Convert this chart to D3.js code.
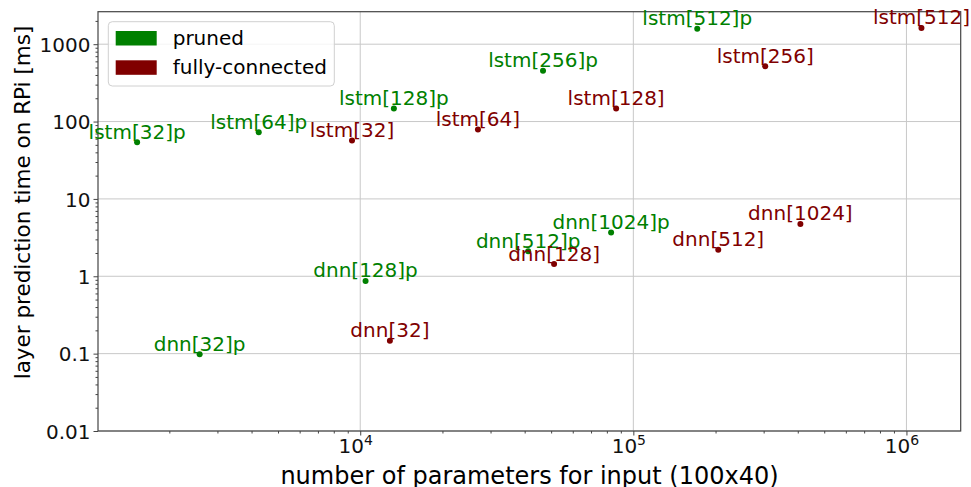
<!DOCTYPE html>
<meta charset="utf-8">
<head>
	<title>Layer prediction time</title>
	<script src="https://cdnjs.cloudflare.com/ajax/libs/d3/7.8.5/d3.min.js"></script>
</head>
<style>
	body { margin: 0; background: #fff; font-family: "DejaVu Sans", sans-serif; }
	.grid line { stroke: #c8c8c8; stroke-width: 1; }
	.axis path, .axis line { stroke: #444; }
	.axis text { font-size: 20px; fill: #111; font-family: "DejaVu Sans"; }
	.lbl { font-size: 20px; }
</style>
<body>
<div id=chart></div>
<script>
	// layer names, parameter counts and RPi prediction time (ms)
	var names = ["lstm[32]p", "lstm[64]p", "lstm[128]p", "lstm[256]p", "lstm[512]p",
		"dnn[32]p", "dnn[128]p", "dnn[512]p", "dnn[1024]p",
		"lstm[32]", "lstm[64]", "lstm[128]", "lstm[256]", "lstm[512]",
		"dnn[32]", "dnn[128]", "dnn[512]", "dnn[1024]"];
	var params = [1524, 4250, 13280, 46700, 171400,
		2582, 10460, 41200, 82900,
		9330, 26980, 86500, 304000, 1135000,
		12840, 51260, 204600, 409000];
	var times = [54, 72.7, 148, 453, 1578,
		0.098, 0.87, 2.1, 3.67,
		56.8, 78.8, 148, 520, 1625,
		0.147, 1.44, 2.21, 4.75];
	var pruned = [1, 1, 1, 1, 1, 1, 1, 1, 1, 0, 0, 0, 0, 0, 0, 0, 0, 0];

	var legendLabels = ["pruned", "fully-connected"];
	var colors = ["#008000", "#800000"];
	var yTicks = [0.01, 0.1, 1, 10, 100, 1000];
	var xTicks = [1e4, 1e5, 1e6];

	var W = 971, H = 487;
	var margin = {top: 11.7, right: 10.3, bottom: 56, left: 98};
	var width = W - margin.left - margin.right,
		height = H - margin.top - margin.bottom;

	var x = d3.scaleLog().domain([1096, 1.58e6]).range([0, width]);
	var y = d3.scaleLog().domain([0.01, 2630]).range([height, 0]);

	var svg = d3.select("#chart").append("svg")
		.attr("width", W).attr("height", H);
	var g = svg.append("g")
		.attr("transform", "translate(" + margin.left + "," + margin.top + ")");

	// grid
	g.append("g").attr("class", "grid")
		.selectAll("line").data(xTicks).enter().append("line")
		.attr("x1", x).attr("x2", x).attr("y1", 0).attr("y2", height);
	g.append("g").attr("class", "grid")
		.selectAll("line").data(yTicks).enter().append("line")
		.attr("y1", y).attr("y2", y).attr("x1", 0).attr("x2", width);

	// minor ticks
	var xMinor = [], yMinor = [];
	[1e3, 1e4, 1e5, 1e6].forEach(function(d) {
		for (var k = 2; k < 10; k++) if (d * k > 1096 && d * k < 1.58e6) xMinor.push(d * k);
	});
	[0.01, 0.1, 1, 10, 100, 1000].forEach(function(d) {
		for (var k = 2; k < 10; k++) if (d * k < 2630) yMinor.push(d * k);
	});

	g.append("g").attr("class", "axis")
		.attr("transform", "translate(0," + height + ")")
		.call(d3.axisBottom(x).tickValues(xMinor).tickSize(2.5).tickFormat(""))
		.select(".domain").remove();
	g.append("g").attr("class", "axis")
		.call(d3.axisLeft(y).tickValues(yMinor).tickSize(2.5).tickFormat(""))
		.select(".domain").remove();

	var xAxis = g.append("g").attr("class", "axis")
		.attr("transform", "translate(0," + height + ")")
		.call(d3.axisBottom(x).tickValues(xTicks).tickSize(4.5).tickSizeOuter(0).tickFormat(""));
	xAxis.select(".domain").remove();
	xAxis.selectAll(".tick").append("text")
		.attr("y", 22).attr("dy", 0)
		.attr("text-anchor", "middle")
		.attr("fill", "#111")
		.each(function(d) {
			var t = d3.select(this);
			t.attr("x", -5);
			t.append("tspan").text("10");
			t.append("tspan").attr("dy", -8).style("font-size", "14px")
				.text(Math.round(Math.log10(d)));
		});

	var yAxis = g.append("g").attr("class", "axis")
		.call(d3.axisLeft(y).tickValues(yTicks).tickSize(4.5).tickSizeOuter(0)
			.tickFormat(function(d) { return d < 1 ? String(d) : d3.format("d")(d); }));
	yAxis.select(".domain").remove();
	yAxis.selectAll("text").attr("x", -7.5).attr("dy", "0.36em");

	// frame
	g.append("rect")
		.attr("width", width).attr("height", height)
		.attr("fill", "none").attr("stroke", "#444").attr("stroke-width", 1.2);

	// points and labels
	var data = names.map(function(n, i) {
		return {name: n, p: params[i], t: times[i], c: colors[pruned[i] ? 0 : 1]};
	});

	g.selectAll(".dot").data(data).enter().append("circle")
		.attr("class", "dot")
		.attr("cx", function(d) { return x(d.p); })
		.attr("cy", function(d) { return y(d.t); })
		.attr("r", 3)
		.attr("fill", function(d) { return d.c; });

	g.selectAll(".lbl").data(data).enter().append("text")
		.attr("class", "lbl")
		.attr("x", function(d) { return x(d.p); })
		.attr("y", function(d) { return y(d.t) - 3.5; })
		.attr("text-anchor", "middle")
		.attr("fill", function(d) { return d.c; })
		.text(function(d) { return d.name; });

	// legend
	var leg = svg.append("g").attr("transform", "translate(108.3,21.7)");
	leg.append("rect")
		.attr("width", 226).attr("height", 64.3)
		.attr("rx", 4)
		.attr("fill", "#fff").attr("fill-opacity", 0.8)
		.attr("stroke", "#d0d0d0");
	var li = leg.selectAll(".li").data(legendLabels).enter().append("g")
		.attr("transform", function(d, i) { return "translate(0," + (i * 29.3) + ")"; });
	li.append("rect")
		.attr("x", 7.4).attr("y", 9.3).attr("width", 41).attr("height", 14.5)
		.attr("fill", function(d, i) { return colors[i]; });
	li.append("text")
		.attr("x", 64.4).attr("y", 23.3)
		.style("font-size", "20px")
		.text(function(d) { return d; });

	// axis titles
	svg.append("text")
		.attr("x", margin.left + (281.7 + 777.3) / 2 - margin.left)
		.attr("y", 484)
		.attr("text-anchor", "middle")
		.style("font-size", "24px")
		.text("number of parameters for input (100x40)");

	svg.append("text")
		.attr("transform", "translate(30," + (202.5) + ") rotate(-90)")
		.attr("text-anchor", "middle")
		.style("font-size", "21.5px")
		.text("layer prediction time on RPi [ms]");
</script>
</body>
